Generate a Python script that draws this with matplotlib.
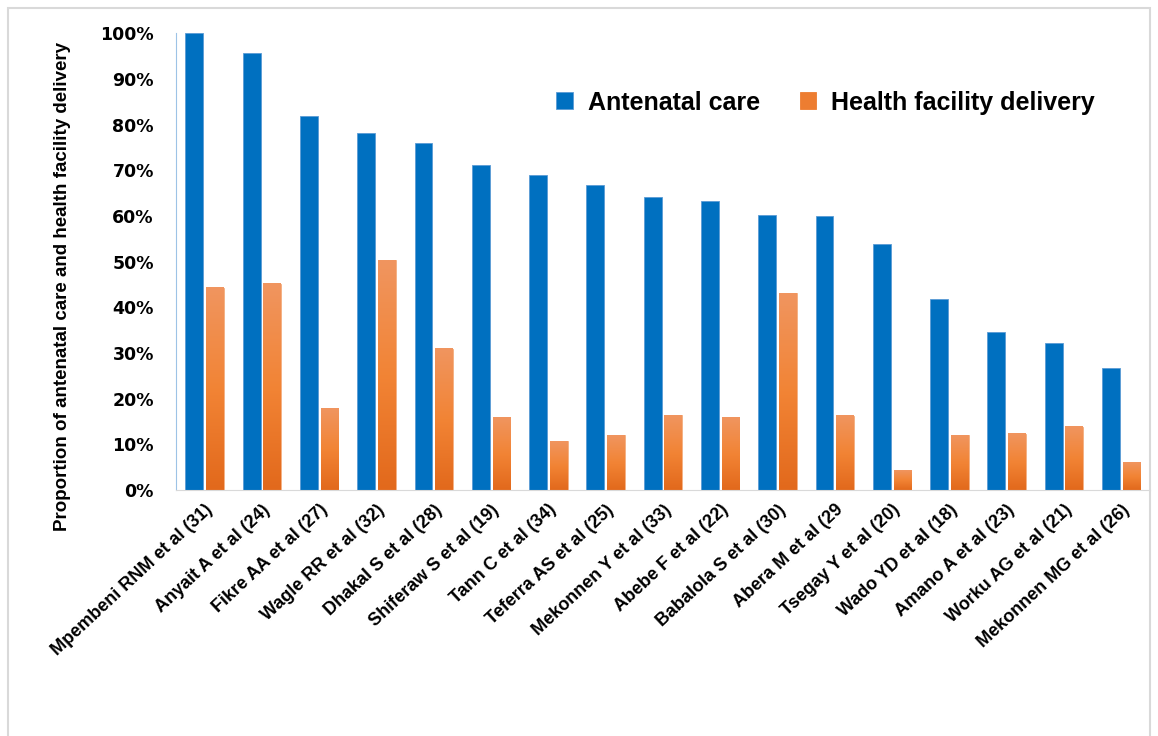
import numpy as np
import matplotlib.pyplot as plt
from matplotlib.patches import Rectangle
from matplotlib.colors import LinearSegmentedColormap
from matplotlib.ticker import PercentFormatter

studies = ["Mpembeni RNM et al (31)", "Anyait A et al (24)", "Fikre AA et al (27)",
           "Wagle RR et al (32)", "Dhakal S et al (28)", "Shiferaw S et al (19)",
           "Tann C et al (34)", "Teferra AS et al (25)", "Mekonnen Y et al (33)",
           "Abebe F et al (22)", "Babalola S et al (30)", "Abera M et al (29",
           "Tsegay Y et al (20)", "Wado YD et al (18)", "Amano A et al (23)",
           "Worku AG et al (21)", "Mekonnen MG et al (26)"]
antenatal = [1.00, 0.956, 0.818, 0.781, 0.759, 0.711, 0.689, 0.667, 0.641,
             0.632, 0.602, 0.600, 0.538, 0.418, 0.346, 0.322, 0.267]
delivery = [0.442, 0.451, 0.179, 0.503, 0.309, 0.158, 0.107, 0.120, 0.164,
            0.158, 0.431, 0.162, 0.042, 0.120, 0.123, 0.138, 0.061]

blue = "#0070C0"
orange_grad = LinearSegmentedColormap.from_list("og", ["#E2691C", "#F28435", "#F0955F"])
narrow = ["Liberation Sans", "DejaVu Sans"]

fig = plt.figure(figsize=(11.58, 7.36), dpi=100)
fig.patches.append(Rectangle((0.007, -0.01), 0.986, 0.999, transform=fig.transFigure,
                             fill=False, edgecolor="#D9D9D9", linewidth=1.5))
ax = fig.add_axes([0.152, 0.334, 0.841, 0.621])

x = np.arange(len(studies))
w = 0.31
ax.bar(x - 0.18, antenatal, w, color=blue, edgecolor="#5B9BD5", linewidth=0.6,
       label="Antenatal care", zorder=2)
obars = ax.bar(x + 0.18, delivery, w, color="#ED7D31", edgecolor="#F4B183", linewidth=0.6,
               label="Health facility delivery", zorder=2)
grad = np.linspace(0, 1, 100).reshape(-1, 1)
for b in obars:
    x0, y0 = b.get_x(), b.get_y()
    ax.imshow(grad, cmap=orange_grad, origin="lower", aspect="auto", zorder=2.5,
              extent=[x0, x0 + b.get_width(), y0, y0 + b.get_height()])

ax.set_xlim(-0.5, len(studies) - 0.5)
ax.set_ylim(0, 1.0)
ax.set_yticks(np.arange(0, 1.01, 0.1))
ax.yaxis.set_major_formatter(PercentFormatter(1.0, decimals=0))
ax.tick_params(axis="both", length=0)
ax.tick_params(axis="y", pad=16)
ax.tick_params(axis="x", pad=8)
for t in ax.get_yticklabels():
    t.set_fontweight("bold")
    t.set_fontsize(12.5)
ax.set_xticks(x)
ax.set_xticklabels(studies, rotation=43, ha="right", rotation_mode="anchor",
                   fontsize=13, fontweight="bold", family=narrow)
ax.set_ylabel("Proportion of antenatal care and health facility delivery",
              fontsize=13.5, fontweight="bold", family=narrow)
ax.yaxis.set_label_coords(-0.108, 0.446)

for s in ["top", "right"]:
    ax.spines[s].set_visible(False)
ax.spines["left"].set_color("#9DC3E6")
ax.spines["bottom"].set_color("#D9D9D9")

leg = ax.legend(loc="center right", bbox_to_anchor=(0.9435, 0.848), ncol=2, frameon=False,
                prop={"family": narrow, "weight": "bold", "size": 18},
                handlelength=0.65, handleheight=0.65, columnspacing=1.6,
                handletextpad=0.6, borderpad=0, borderaxespad=0)
leg.legend_handles[1].set_color("#ED7D31")

fig.savefig("out.png", dpi=100)
